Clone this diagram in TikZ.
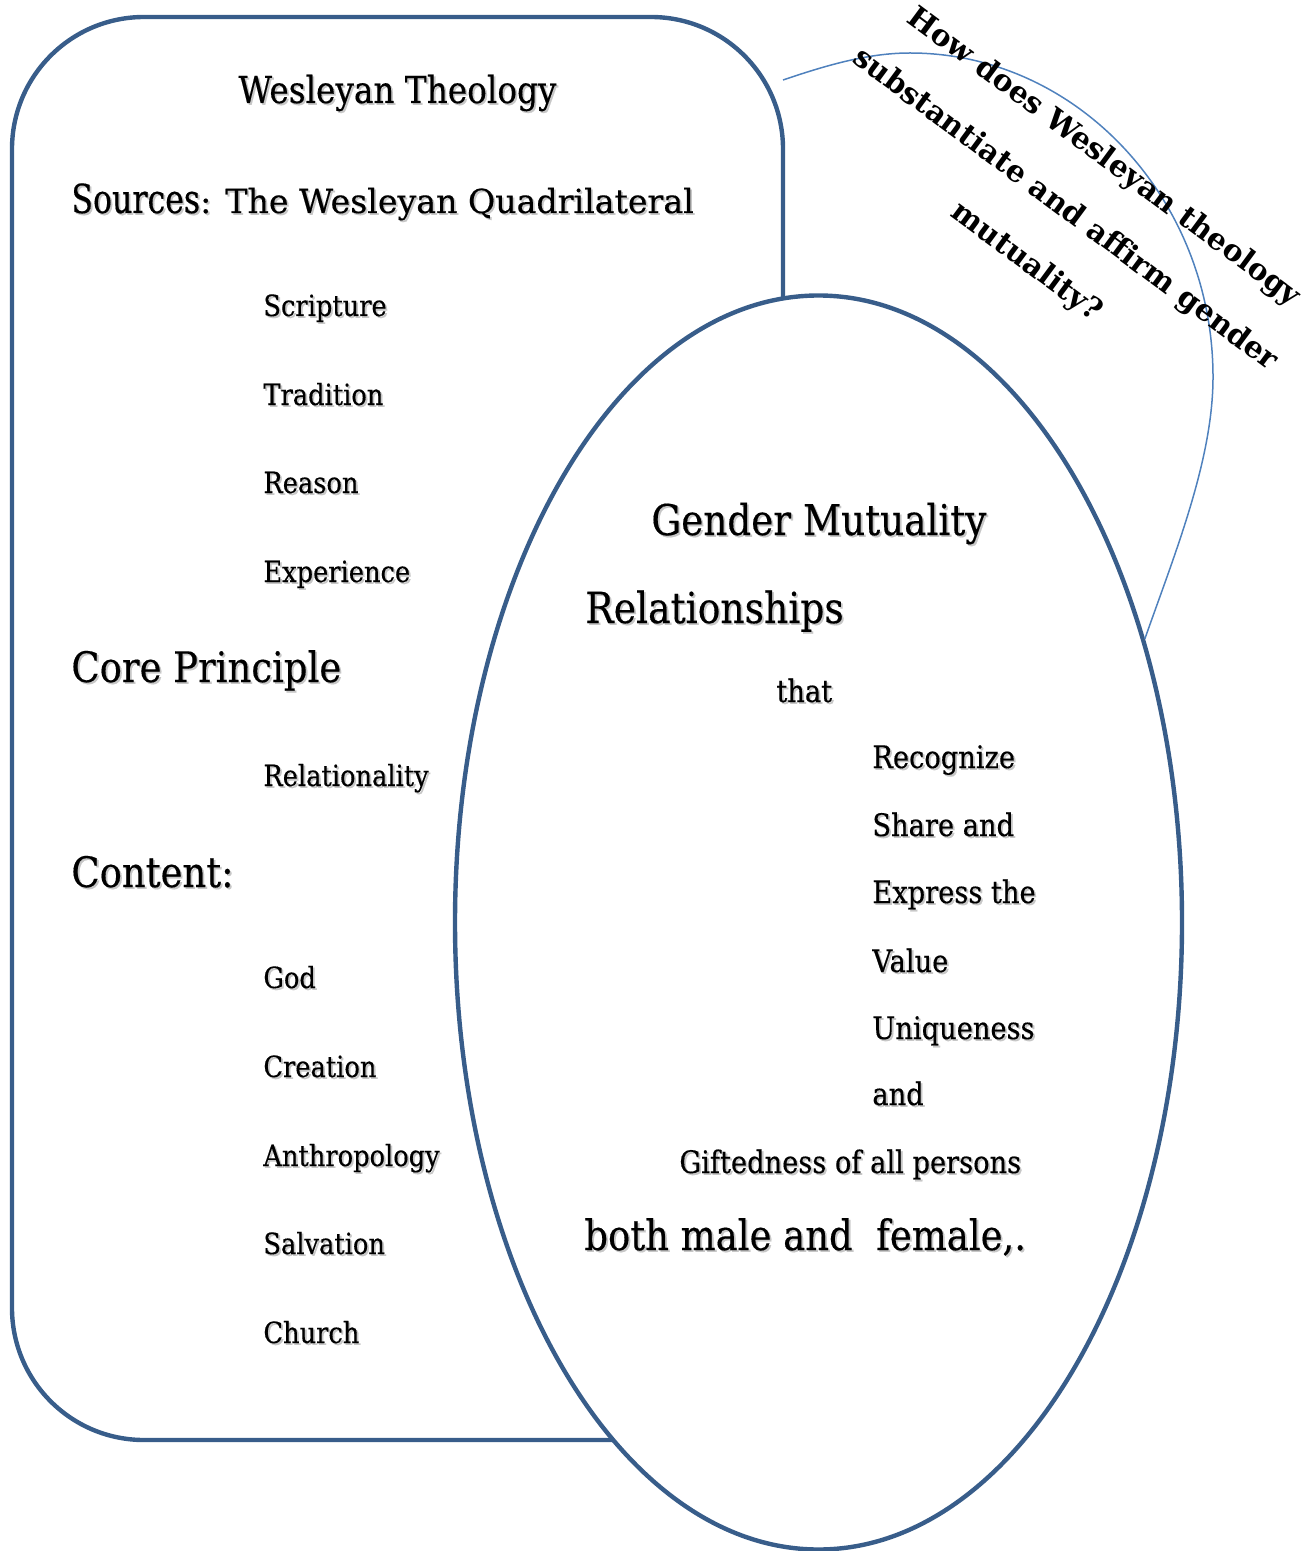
\documentclass[tikz,border=0pt]{standalone}
\usepackage{fontspec}
\usetikzlibrary{shapes.geometric}
\setmainfont{DejaVu Serif}[FakeStretch=0.88, FakeBold=0.35]
\newfontfamily\srcfont{DejaVu Serif}[FakeStretch=0.79, FakeBold=0.35]
\newfontfamily\quadfont{DejaVu Serif}[FakeBold=0.35]
\newfontfamily\askfont{DejaVu Serif}
\definecolor{frameblue}{HTML}{385D8A}
\definecolor{arcblue}{HTML}{4F81BD}
% text with a soft drop shadow
\newcommand\txtshadow[1]{\makebox[0pt][l]{\color{black!22}\kern0.9pt\raisebox{-0.9pt}{#1}}#1}
\tikzset{
  frame/.style={draw=frameblue, line width=2.2pt},
  thinarc/.style={draw=arcblue, line width=0.75pt},
  item/.style={anchor=base west, inner sep=0pt, font=\fontsize{14.6}{18}\selectfont},
  ritem/.style={anchor=base west, inner sep=0pt, font=\fontsize{15.5}{18}\selectfont},
  head/.style={anchor=base west, inner sep=0pt, font=\fontsize{21}{25}\selectfont},
  ask/.style={inner sep=0pt, align=center, rotate=-36.5,
    font=\askfont\bfseries\fontsize{14.9}{32.5}\selectfont},
}
\begin{document}
\begin{tikzpicture}[x=0.5pt, y=-0.5pt]
\useasboundingbox (0,0) rectangle (1314,1551);

% left panel: Wesleyan theology
\node[frame, rectangle, rounded corners=66pt, inner sep=0pt,
      minimum width=385.5pt, minimum height=711.5pt] (theo) at (397.5,728.5) {};
% right panel: gender mutuality
\node[frame, ellipse, fill=white, inner sep=0pt,
      minimum width=363.5pt, minimum height=627pt] (gm) at (818.5,922.5) {};

% thin arc joining the two panels
\coordinate (a0) at (783,80);
\coordinate (a1) at (910,53);
\coordinate (a2) at (1213,377);
\draw[thinarc] (a0) .. controls (830,64) and (870,53) .. (a1)
  .. controls (1077,53) and (1213,199) .. (a2)
  .. controls (1213,460) and (1175,553) .. (gm.41.7);

% question
\node[ask] (q) at (1065,210)
  {How does Wesleyan theology\\substantiate and affirm gender\\mutuality?};

% left panel texts
\node[anchor=base west, inner sep=0pt, font=\fontsize{18.6}{22}\selectfont] (t0) at (238,103)
  {\txtshadow{Wesleyan Theology}};
\node[anchor=base west, inner sep=0pt] (t1) at (71,213)
  {\txtshadow{\srcfont\fontsize{20}{24}\selectfont Sources}\txtshadow{\quadfont\fontsize{16.6}{20}\selectfont: The Wesleyan Quadrilateral}};
\node[item] (s1) at (263,316) {\txtshadow{Scripture}};
\node[item] (s2) at (263,405) {\txtshadow{Tradition}};
\node[item] (s3) at (263,493) {\txtshadow{Reason}};
\node[item] (s4) at (263,582) {\txtshadow{Experience}};
\node[head] (t2) at (71,682) {\txtshadow{Core Principle}};
\node[item] (p1) at (263,786) {\txtshadow{Relationality}};
\node[head] (t3) at (71,887) {\txtshadow{Content:}};
\node[item] (c1) at (263,988) {\txtshadow{God}};
\node[item] (c2) at (263,1077) {\txtshadow{Creation}};
\node[item] (c3) at (263,1166) {\txtshadow{Anthropology}};
\node[item] (c4) at (263,1254) {\txtshadow{Salvation}};
\node[item] (c5) at (263,1343) {\txtshadow{Church}};

% right panel texts
\node[anchor=base west, inner sep=0pt, font=\fontsize{21.2}{25}\selectfont] (g0) at (651,535)
  {\txtshadow{Gender Mutuality}};
\node[anchor=base west, inner sep=0pt, font=\fontsize{21.4}{25}\selectfont] (g1) at (585,623)
  {\txtshadow{Relationships}};
\node[ritem] (g2) at (776,702) {\txtshadow{that}};
\node[ritem] (r1) at (872,768) {\txtshadow{Recognize}};
\node[ritem] (r2) at (872,836) {\txtshadow{Share and}};
\node[ritem] (r3) at (872,903) {\txtshadow{Express the}};
\node[ritem] (r4) at (872,972) {\txtshadow{Value}};
\node[ritem] (r5) at (872,1039) {\txtshadow{Uniqueness}};
\node[ritem] (r6) at (872,1105) {\txtshadow{and}};
\node[ritem] (g3) at (679,1173) {\txtshadow{Giftedness of all persons}};
\node[head] (g4) at (584,1250) {\txtshadow{both male and\ \ female,.}};
\end{tikzpicture}
\end{document}
